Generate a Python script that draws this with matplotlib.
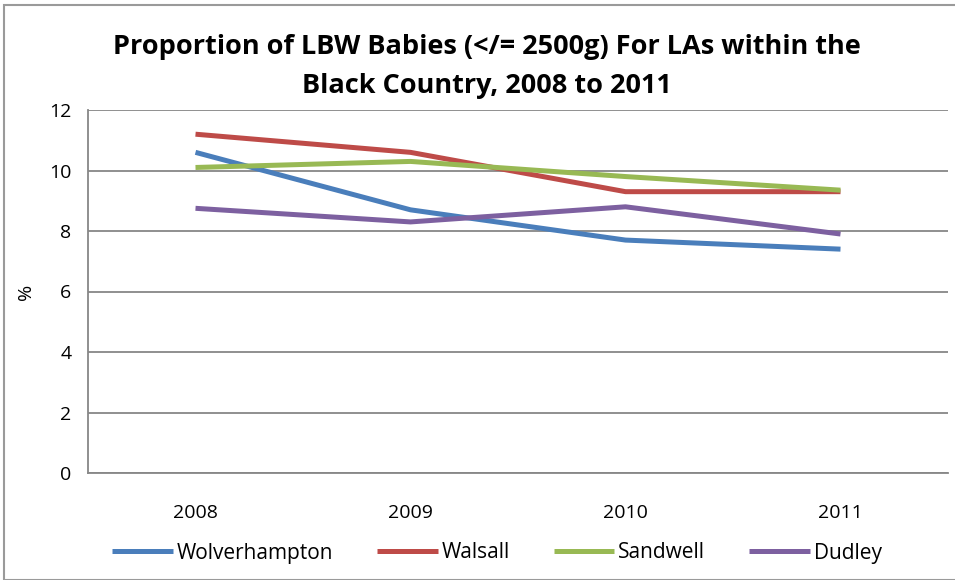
import matplotlib.pyplot as plt
from matplotlib.patches import Rectangle

# data
years = ['2008', '2009', '2010', '2011']
wolverhampton = [10.6, 8.7, 7.7, 7.4]
walsall = [11.2, 10.6, 9.3, 9.3]
sandwell = [10.1, 10.3, 9.8, 9.35]
dudley = [8.75, 8.3, 8.8, 7.9]

series = [('Wolverhampton', wolverhampton, '#4A7EBB'),
          ('Walsall', walsall, '#BE4B48'),
          ('Sandwell', sandwell, '#98B954'),
          ('Dudley', dudley, '#7D60A0')]

plt.rcParams['font.family'] = ['Open Sans', 'DejaVu Sans']

W, H = 955, 580
fig = plt.figure(figsize=(W / 100, H / 100), dpi=100)
ax = fig.add_axes([88 / W, 1 - 473 / H, (948 - 88) / W, (473 - 110) / H])

x = range(len(years))
for name, vals, col in series:
    ax.plot(x, vals, color=col, lw=3.6, label=name, solid_capstyle='butt')

ax.set_xlim(-0.5, 3.5)
ax.set_ylim(0, 12)
ax.set_yticks(range(0, 13, 2))
ax.set_xticks(list(x))
ax.set_xticklabels(years)
ax.tick_params(axis='both', length=0, labelsize=14, colors='black')
ax.tick_params(axis='x', pad=22)
ax.tick_params(axis='y', pad=12)
ax.grid(axis='y', color='#878787', lw=1.3)
ax.set_axisbelow(True)
for s in ['top', 'right']:
    ax.spines[s].set_visible(False)
for s in ['left', 'bottom']:
    ax.spines[s].set_color('#878787')
    ax.spines[s].set_linewidth(1.3)

ax.set_ylabel('%', fontsize=14, labelpad=10)

fig.text(487 / W, 1 - 47 / H, 'Proportion of LBW Babies (</= 2500g) For LAs within the',
         ha='center', va='center', fontsize=19.5, fontweight='bold')
fig.text(487 / W, 1 - 86 / H, 'Black Country, 2008 to 2011',
         ha='center', va='center', fontsize=19.5, fontweight='bold')

leg = fig.legend(loc='center', bbox_to_anchor=(497 / W, 1 - 553 / H), ncol=4,
                 frameon=False, fontsize=15, handlelength=2.9, handletextpad=0.2,
                 columnspacing=2.1)

# outer chart border
fig.patches.append(Rectangle((4 / W, 0), 1, 1 - 5 / H, transform=fig.transFigure,
                             fill=False, edgecolor='#9a9a9a', lw=1.5))

fig.savefig('out.png', dpi=100)
